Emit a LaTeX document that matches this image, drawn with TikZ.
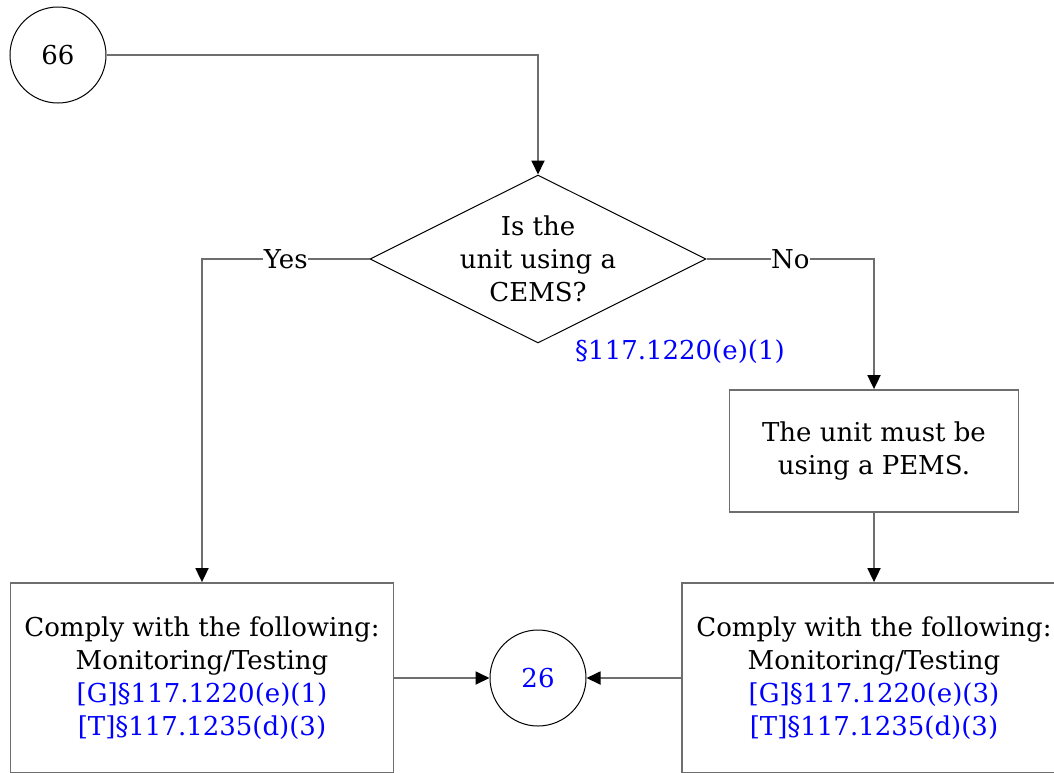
\documentclass[tikz,border=0pt]{standalone}
\usepackage{fontspec}
\setmainfont{DejaVu Serif}
\usetikzlibrary{arrows.meta,shapes.geometric}
\definecolor{lnk}{RGB}{0,0,255}
\definecolor{ln}{RGB}{110,110,110}
\begin{document}
\begin{tikzpicture}[x=1pt,y=-1pt,
 font=\fontsize{26}{33}\selectfont,
 conn/.style={draw=ln,line width=1.8pt,-{Triangle[length=14pt,width=13pt,color=black]}},
 circ/.style={circle,draw=black,line width=1pt,minimum size=96pt,inner sep=0pt},
 box/.style={rectangle,draw=ln,line width=1.8pt,align=center,inner sep=0pt},
 dec/.style={diamond,draw=black,line width=1pt,minimum width=336pt,minimum height=168pt,inner sep=0pt,aspect=2,align=center},
 lab/.style={fill=white,inner sep=0.5pt}]
\useasboundingbox (0,0) rectangle (1054,772);
\clip (0,0) rectangle (1054,772);
\node[circ] (c66) at (58,55) {66};
\node[dec] (dec) at (538,259) {Is the\\unit using a\\CEMS?};
\node[box,minimum width=289pt,minimum height=122pt] (pems) at (874,451) {The unit must be\\using a PEMS.};
\node[box,minimum width=383pt,minimum height=190pt] (lbox) at (202,678) {Comply with the following:\\Monitoring/Testing\\\textcolor{lnk}{[G]§117.1220(e)(1)}\\\textcolor{lnk}{[T]§117.1235(d)(3)}};
\node[box,minimum width=384pt,minimum height=190pt] (rbox) at (874,678) {Comply with the following:\\Monitoring/Testing\\\textcolor{lnk}{[G]§117.1220(e)(3)}\\\textcolor{lnk}{[T]§117.1235(d)(3)}};
\node[circ,text=lnk] (c26) at (538,678) {26};
\node[text=lnk] (ref) at (680,352) {§117.1220(e)(1)};
\draw[conn] (c66.east) -| (dec.north);
\draw[conn] (dec.west) -| node[lab,pos=0.25] (yes) {Yes} (lbox.north);
\draw[conn] (dec.east) -| node[lab,pos=0.25] (no) {No} (pems.north);
\draw[conn] (pems.south) -- (rbox.north);
\draw[conn] (lbox.east |- c26) -- (c26.west);
\draw[conn] (rbox.west |- c26) -- (c26.east);
\end{tikzpicture}
\end{document}
